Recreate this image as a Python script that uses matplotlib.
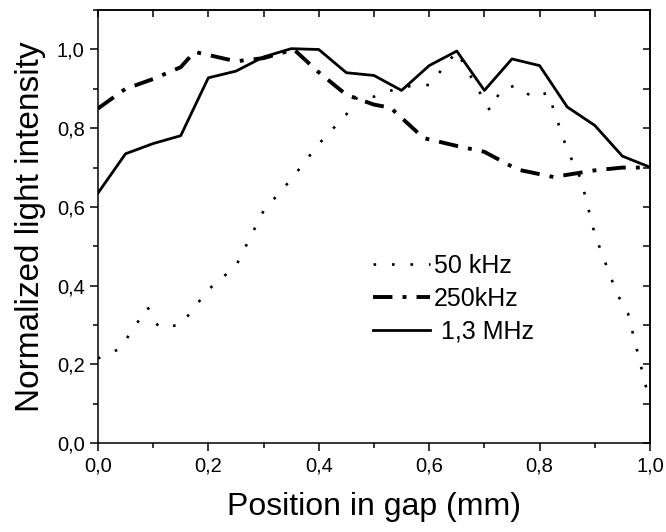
import matplotlib
matplotlib.use("Agg")
import matplotlib.pyplot as plt
from matplotlib.ticker import MultipleLocator, FuncFormatter

# 50 kHz (dotted)
x_50k = [0.0, 0.04, 0.09, 0.11, 0.15, 0.2, 0.25, 0.3, 0.35, 0.4, 0.45, 0.47, 0.5,
         0.55, 0.6, 0.65, 0.71, 0.73, 0.755, 0.79, 0.815, 0.85, 0.875, 0.9, 0.94,
         0.96, 0.995]
y_50k = [0.215, 0.24, 0.345, 0.295, 0.30, 0.39, 0.45, 0.59, 0.67, 0.76, 0.835, 0.88, 0.88,
         0.905, 0.91, 0.995, 0.845, 0.897, 0.908, 0.877, 0.891, 0.745, 0.67, 0.53, 0.38,
         0.33, 0.13]

# 250 kHz (dash-dot)
x_250k = [0.0, 0.05, 0.1, 0.15, 0.175, 0.25, 0.3, 0.355, 0.4, 0.45, 0.5, 0.53, 0.59,
          0.65, 0.7, 0.76, 0.825, 0.9, 0.95, 1.0]
y_250k = [0.85, 0.90, 0.925, 0.955, 0.994, 0.97, 0.978, 1.0, 0.942, 0.885, 0.86, 0.852, 0.775,
          0.755, 0.74, 0.695, 0.676, 0.693, 0.70, 0.70]

# 1,3 MHz (solid)
x_13m = [0.0, 0.05, 0.1, 0.15, 0.2, 0.25, 0.3, 0.35, 0.4, 0.45, 0.5, 0.55, 0.6, 0.65,
         0.7, 0.75, 0.8, 0.85, 0.9, 0.95, 1.0]
y_13m = [0.635, 0.735, 0.761, 0.781, 0.928, 0.945, 0.981, 1.002, 1.0, 0.941, 0.934, 0.896,
         0.959, 0.996, 0.896, 0.976, 0.959, 0.854, 0.807, 0.729, 0.701]

labels = ["50 kHz", "250kHz", " 1,3 MHz"]

plt.rcParams["font.family"] = ["Liberation Sans", "DejaVu Sans"]

fig = plt.figure(figsize=(6.66, 5.32), dpi=100)
ax = fig.add_axes([0.147, 0.167, 0.829, 0.814])

ax.plot(x_50k, y_50k, color="black", linewidth=1.9, linestyle=(0, (1, 6)),
        dash_capstyle="butt", label=labels[0])
ax.plot(x_250k, y_250k, color="black", linewidth=2.8, linestyle=(0, (5, 2.6, 1, 2.6)),
        label=labels[1])
ax.plot(x_13m, y_13m, color="black", linewidth=2.0, linestyle="-", label=labels[2])

ax.set_xlim(0, 1.0)
ax.set_ylim(0, 1.1)

comma = FuncFormatter(lambda v, p: f"{v:.1f}".replace(".", ","))
ax.xaxis.set_major_locator(MultipleLocator(0.2))
ax.xaxis.set_minor_locator(MultipleLocator(0.1))
ax.yaxis.set_major_locator(MultipleLocator(0.2))
ax.yaxis.set_minor_locator(MultipleLocator(0.1))
ax.xaxis.set_major_formatter(comma)
ax.yaxis.set_major_formatter(comma)

for s in ax.spines.values():
    s.set_linewidth(1.1)

ax.tick_params(which="both", bottom=True, left=True, top=False, right=False,
               direction="out", width=1.1, labelsize=14.5)
ax.tick_params(which="major", length=6)
ax.tick_params(which="minor", length=3.5)

# mirrored ticks on top / right pointing inward
top = ax.secondary_xaxis("top")
top.xaxis.set_major_locator(MultipleLocator(0.1))
top.tick_params(direction="in", length=5, width=1.1, labeltop=False)
top.spines["top"].set_linewidth(1.1)
right = ax.secondary_yaxis("right")
right.yaxis.set_major_locator(MultipleLocator(0.1))
right.tick_params(direction="in", length=5, width=1.1, labelright=False)
right.spines["right"].set_linewidth(1.1)

ax.set_xlabel("Position in gap (mm)", fontsize=23, labelpad=12)
ax.set_ylabel("Normalized light intensity", fontsize=24, labelpad=8)

ax.legend(loc="upper left", bbox_to_anchor=(0.48, 0.46), frameon=False,
          fontsize=18, handlelength=2.3, handletextpad=0.15, labelspacing=0.35,
          borderaxespad=0)

fig.savefig("out.png", dpi=100)
